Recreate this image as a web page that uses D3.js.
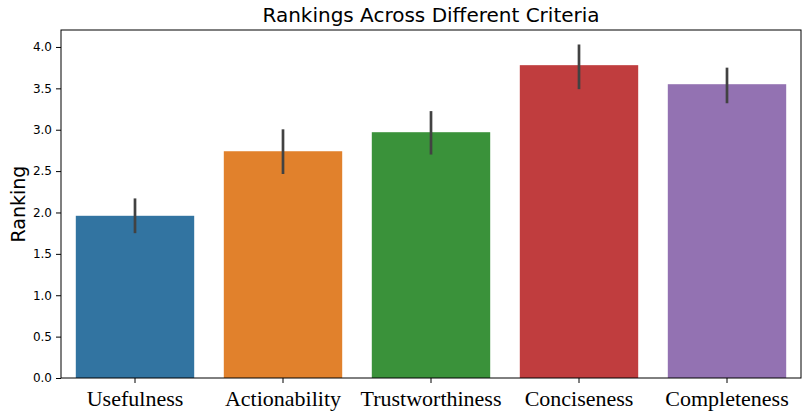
<!DOCTYPE html>
<html>
<head>
<meta charset="utf-8">
<script src="https://cdn.jsdelivr.net/npm/d3@7"></script>
<style>
  html, body { margin: 0; padding: 0; background: #fff; }
  svg { display: block; }
</style>
</head>
<body>
<svg id="chart" width="803" height="412"></svg>
<script>
const categories = ["Usefulness", "Actionability", "Trustworthiness", "Conciseness", "Completeness"];
const means = [1.96, 2.74, 2.97, 3.78, 3.55];
const ciLow = [1.75, 2.465, 2.70, 3.49, 3.32];
const ciHigh = [2.17, 3.005, 3.225, 4.03, 3.75];
const colors = ["#3274a1", "#e1812c", "#3a923a", "#c03d3e", "#9372b2"];
const yTicks = [0.0, 0.5, 1.0, 1.5, 2.0, 2.5, 3.0, 3.5, 4.0];

const svg = d3.select("#chart");
const m = { left: 61, right: 2, top: 30, bottom: 34 };
const W = 803, H = 412;

const x = d3.scaleBand().domain(categories).range([m.left, W - m.right]).paddingInner(0.2).paddingOuter(0.1);
const y = d3.scaleLinear().domain([0, 4.205]).range([H - m.bottom, m.top]);

const data = categories.map((c, i) => ({ c, v: means[i], lo: ciLow[i], hi: ciHigh[i], col: colors[i] }));

svg.append("g").selectAll("rect").data(data).join("rect")
  .attr("x", d => x(d.c)).attr("width", x.bandwidth())
  .attr("y", d => y(d.v)).attr("height", d => y(0) - y(d.v))
  .attr("fill", d => d.col);

svg.append("g").selectAll("line").data(data).join("line")
  .attr("x1", d => x(d.c) + x.bandwidth() / 2).attr("x2", d => x(d.c) + x.bandwidth() / 2)
  .attr("y1", d => y(d.lo)).attr("y2", d => y(d.hi))
  .attr("stroke", "#424242").attr("stroke-width", 2.7);

// y axis
const yAxis = svg.append("g").attr("transform", `translate(${m.left},0)`)
  .call(d3.axisLeft(y).tickValues(yTicks).tickFormat(d3.format(".1f")).tickSize(5).tickPadding(4));
yAxis.select(".domain").remove();
yAxis.selectAll("text").attr("font-family", "DejaVu Sans").attr("font-size", 12).attr("fill", "#000");
yAxis.selectAll("line").attr("stroke", "#000");

// x axis
const xAxis = svg.append("g").attr("transform", `translate(0,${y(0)})`)
  .call(d3.axisBottom(x).tickSize(5).tickPadding(7));
xAxis.select(".domain").remove();
xAxis.selectAll("text").attr("font-family", "Liberation Serif").attr("font-size", 22).attr("fill", "#000");
xAxis.selectAll("line").attr("stroke", "#000");

// frame
svg.append("rect").attr("x", m.left).attr("y", m.top)
  .attr("width", W - m.right - m.left).attr("height", y(0) - m.top)
  .attr("fill", "none").attr("stroke", "#000").attr("stroke-width", 1);

svg.append("text").attr("x", (m.left + W - m.right) / 2).attr("y", 22)
  .attr("text-anchor", "middle").attr("font-family", "DejaVu Sans").attr("font-size", 20)
  .text("Rankings Across Different Criteria");

svg.append("text").attr("transform", `translate(25,${(m.top + y(0)) / 2}) rotate(-90)`)
  .attr("text-anchor", "middle").attr("font-family", "DejaVu Sans").attr("font-size", 19)
  .text("Ranking");
</script>
</body>
</html>
